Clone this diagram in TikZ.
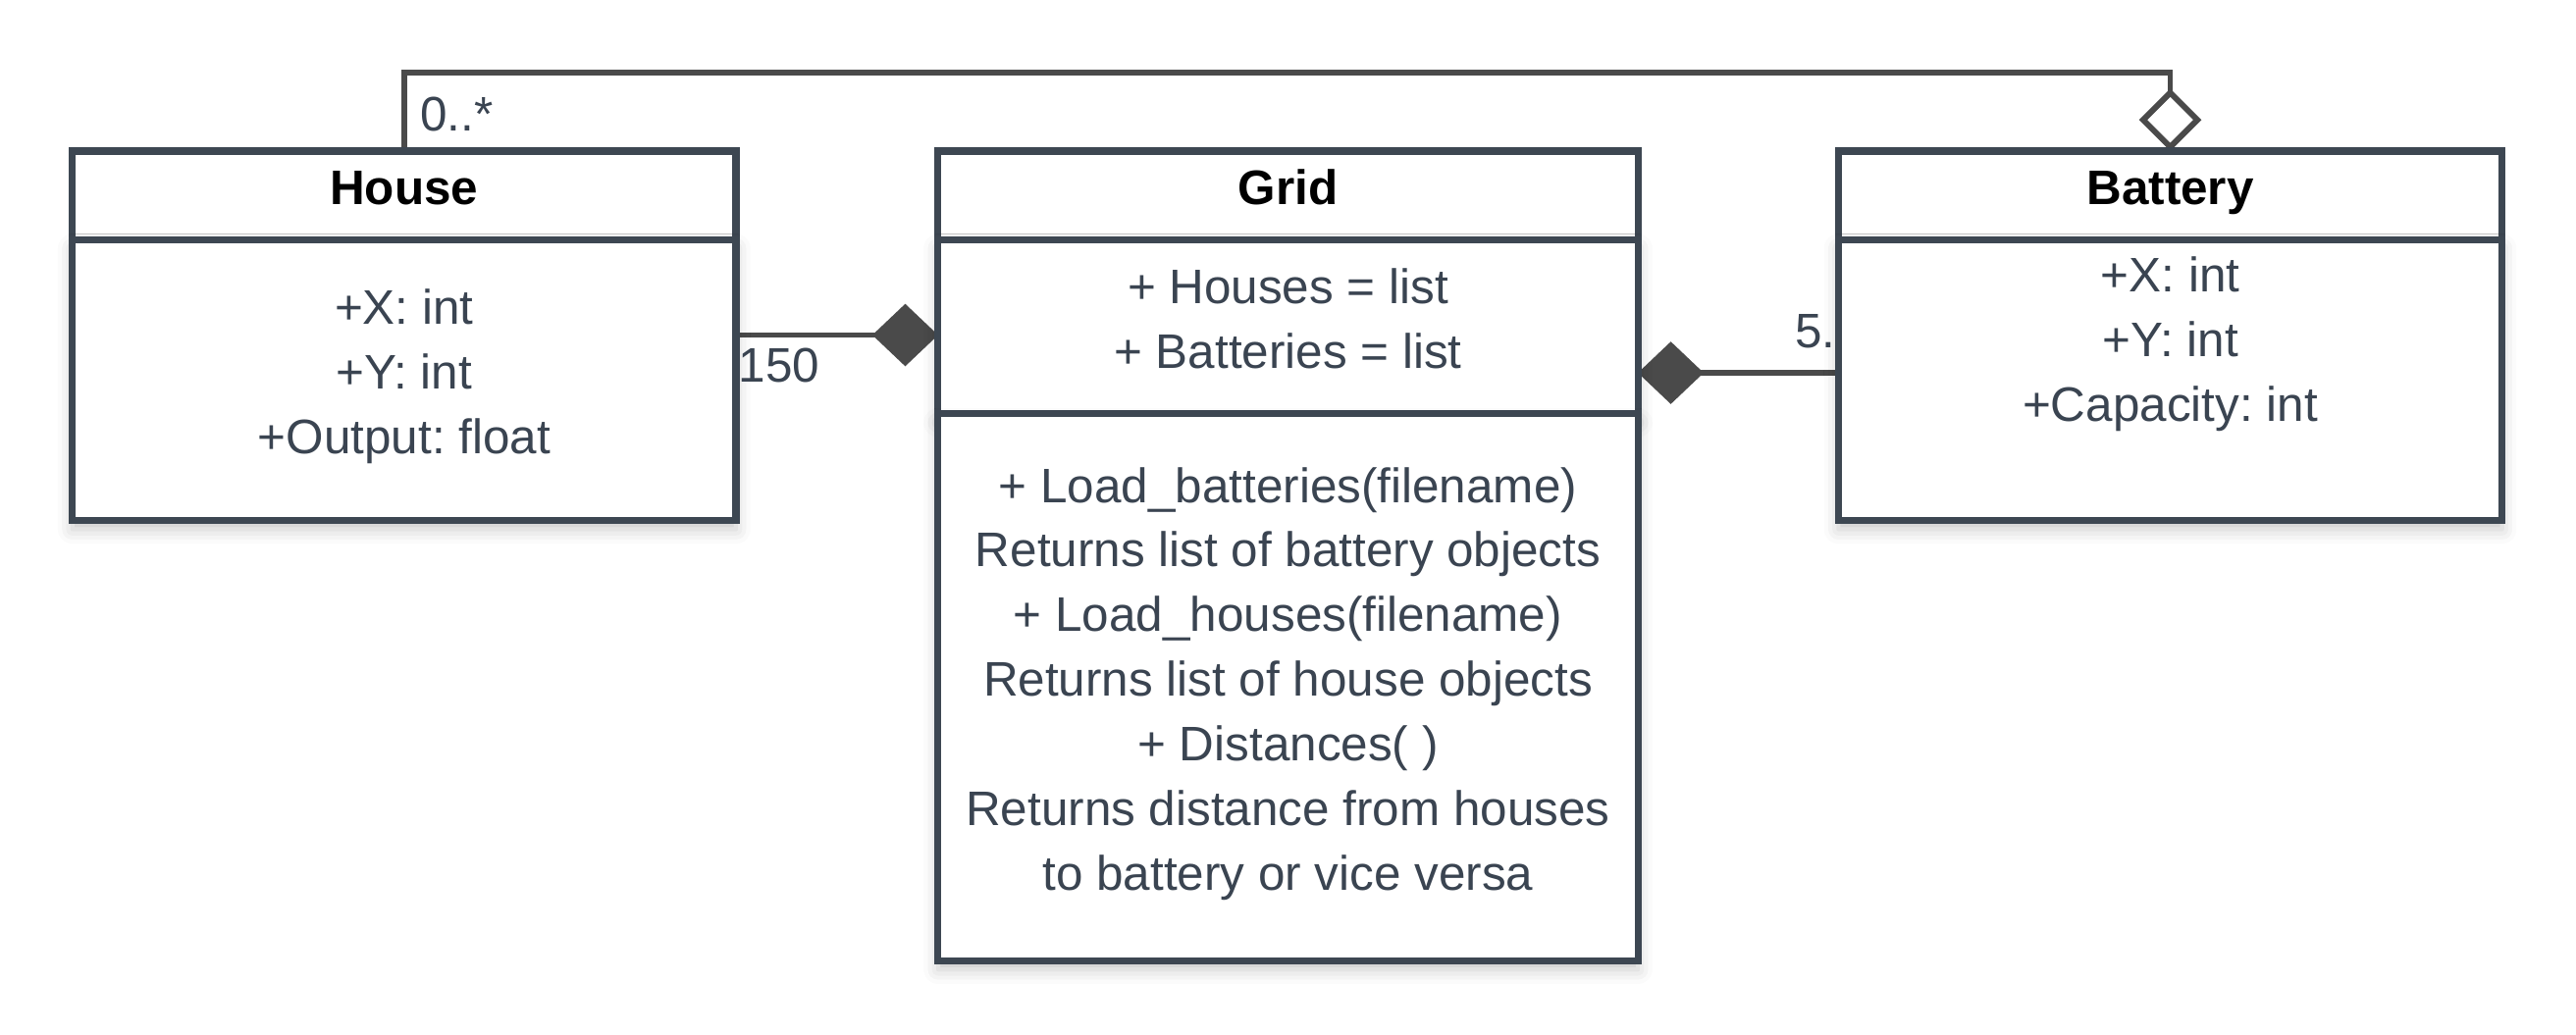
\documentclass[tikz,border=0pt]{standalone}
\usepackage{fontspec}
\setmainfont{Liberation Sans}
\usetikzlibrary{positioning,arrows.meta,shadows.blur}
\pgfdeclarelayer{bg}
\pgfsetlayers{bg,main}
\definecolor{boxline}{HTML}{3D4752}
\definecolor{boxtext}{HTML}{3A4451}
\definecolor{linkline}{HTML}{4A4A4A}
\newcommand{\umlfont}{\fontsize{8.4pt}{11.2pt}\selectfont}
\frenchspacing
\tikzset{
    classhead/.style={draw=boxline, fill=white, line width=1.2pt, outer sep=0pt, inner sep=0pt,
        minimum height=0.54cm, text height=0.65em, text depth=0.35em, font=\umlfont\bfseries},
    classbody/.style={draw=boxline, fill=white, line width=1.2pt, outer sep=0pt, inner sep=0pt,
        align=center, text=boxtext, text depth=0.3em, font=\umlfont,
        blur shadow={shadow xshift=0pt, shadow yshift=-1.5pt, shadow blur radius=2.5pt, shadow opacity=22}},
    composite/.style={draw=linkline, line width=1pt, -{Diamond[length=0.4cm, width=0.38cm]}},
    aggregate/.style={draw=linkline, line width=1pt, -{Diamond[open, length=0.38cm, width=0.38cm]}},
    mult/.style={text=boxtext, inner sep=0pt, font=\umlfont}
}
\begin{document}
\begin{tikzpicture}
    \useasboundingbox (0,0) rectangle (15.68cm, -6.296cm);

    \node (househead) [classhead, minimum width=4.04cm] at (2.46cm, -1.19cm) {House};
    \node (housebody) [classbody, minimum width=4.04cm, minimum height=1.71cm, below=0pt of househead]
        {+X: int\\+Y: int\\+Output: float};

    \node (gridhead) [classhead, minimum width=4.26cm] at (7.84cm, -1.19cm) {Grid};
    \node (gridattr) [classbody, minimum width=4.26cm, minimum height=1.06cm, below=0pt of gridhead]
        {+ Houses = list\\+ Batteries = list};
    \node (gridops) [classbody, minimum width=4.26cm, minimum height=3.33cm, below=0pt of gridattr]
        {+ Load\_batteries(filename)\\Returns list of battery objects\\+ Load\_houses(filename)\\Returns list of house objects\\+ Distances( )\\Returns distance from houses\\to battery or vice versa};

    \node (batteryhead) [classhead, minimum width=4.04cm] at (13.21cm, -1.19cm) {Battery};
    \node (batterybody) [classbody, minimum width=4.04cm, minimum height=1.71cm, below=0pt of batteryhead]
        {+X: int\\+Y: int\\+Capacity: int\\ \mbox{}};

    \coordinate (hg) at ([yshift=2.75mm]housebody.east);
    \coordinate (bg) at ([yshift=0.45mm]batterybody.west);

    \begin{pgfonlayer}{bg}
        \draw[aggregate] (househead.north) -- ++(0, 0.48cm) -| (batteryhead.north);
        \draw[composite] (hg) -- (hg -| gridattr.west);
        \draw[composite] (bg) -- (bg -| gridattr.east);
    \end{pgfonlayer}

    \node (lblmany) [mult, anchor=base west] at ([xshift=0.09cm, yshift=0.125cm]househead.north) {0..*};
    \node (lblhouses) [mult, anchor=base west] at ([xshift=0.01cm, yshift=-0.285cm]hg) {150};
    \node (lblbatteries) [mult, anchor=base east] at ([xshift=-0.01cm, yshift=0.155cm]bg) {5.};
\end{tikzpicture}
\end{document}
